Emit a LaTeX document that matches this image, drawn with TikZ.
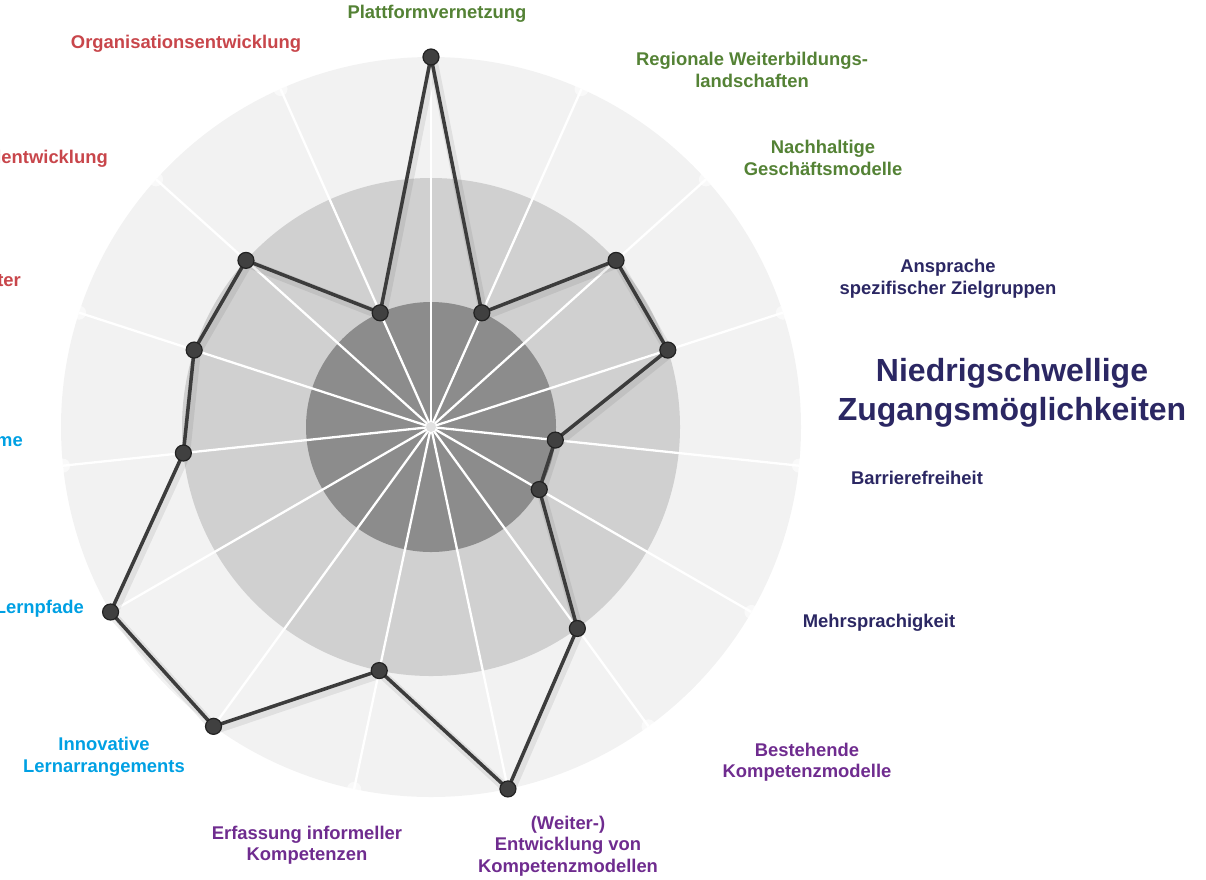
\documentclass[tikz,border=0pt]{standalone}
\usepackage{fontspec}
\setmainfont{Liberation Sans}
\usetikzlibrary{calc}
\definecolor{cred}{HTML}{C8464B}
\definecolor{cgreen}{HTML}{548235}
\definecolor{cnavy}{HTML}{2B2763}
\definecolor{cpurple}{HTML}{6F2C8F}
\definecolor{cblue}{HTML}{00A0E3}
\definecolor{ringA}{HTML}{F2F2F2}
\definecolor{ringB}{HTML}{D0D0D0}
\definecolor{ringC}{HTML}{8C8C8C}
\definecolor{dotfill}{HTML}{404040}
\definecolor{dotdraw}{HTML}{222222}
\definecolor{linecol}{HTML}{3C3C3C}
\begin{document}
\begin{tikzpicture}[x=1pt,y=-1pt,
  lab/.style={font=\bfseries\fontsize{18.4}{21.5}\selectfont, align=center, inner sep=0pt},
  titlelab/.style={font=\bfseries\fontsize{32}{39}\selectfont, align=center, inner sep=0pt, text=cnavy},
  spoke/.style={draw=white, line width=2.3},
  spokeend/.style={circle, fill=white, fill opacity=0.6, minimum size=14, inner sep=0},
  marker/.style={circle, fill=dotfill, draw=dotdraw, line width=1.2, minimum size=16, inner sep=0},
  dataline/.style={draw=linecol, line width=3.5, line join=round}]
\useasboundingbox (0,0) rectangle (1206,879);
\coordinate (c) at (431,427);
% rings
\fill[ringA] (c) circle[radius=370];
\fill[ringB] (c) circle[radius=249];
\fill[ringC] (c) circle[radius=125];
% spokes
\foreach \k in {0,...,14}{
  \pgfmathsetmacro\b{24*\k-90}
  \coordinate (s\k) at ($(c)+(\b:370)$);
  \draw[spoke] (c) -- (s\k);
  \node[spokeend] (e\k) at (s\k) {};
}
\fill[white!88!black] (c) circle[radius=5];
% data
\foreach \k/\r in {0/370,1/125,2/249,3/249,4/125,5/125,6/249,7/370,8/249,9/370,10/370,11/249,12/249,13/249,14/125}{
  \pgfmathsetmacro\b{24*\k-90}
  \coordinate (q\k) at ($(c)+(\b:\r)$);
}
\draw[black, opacity=0.07, line width=9, line join=round, transform canvas={shift={(2pt,-3pt)}}]
  (q0)--(q1)--(q2)--(q3)--(q4)--(q5)--(q6)--(q7)--(q8)--(q9)--(q10)--(q11)--(q12)--(q13)--(q14)--cycle;
\draw[dataline] (q0)--(q1)--(q2)--(q3)--(q4)--(q5)--(q6)--(q7)--(q8)--(q9)--(q10)--(q11)--(q12)--(q13)--(q14)--cycle;
\foreach \k in {0,...,14}{
  \node[marker] (p\k) at (q\k) {};
}
% labels
\node[lab, text=cgreen] (l0) at (437,14) {Plattformvernetzung};
\node[lab, text=cgreen] (l1) at (752,70) {Regionale Weiterbildungs-\\landschaften};
\node[lab, text=cgreen] (l2) at (823,158) {Nachhaltige\\Geschäftsmodelle};
\node[lab, text=cnavy] (l3) at (948,279) {Ansprache\\spezifischer Zielgruppen};
\node[titlelab] (t1) at (1012,393) {Niedrigschwellige\\Zugangsmöglichkeiten};
\node[lab, text=cnavy] (l4) at (917,478) {Barrierefreiheit};
\node[lab, text=cnavy] (l5) at (879,623) {Mehrsprachigkeit};
\node[lab, text=cpurple] (l6) at (807,762) {Bestehende\\Kompetenzmodelle};
\node[lab, text=cpurple] (l7) at (568,846) {(Weiter-)\\Entwicklung von\\Kompetenzmodellen};
\node[lab, text=cpurple] (l8) at (307,845) {Erfassung informeller\\Kompetenzen};
\node[lab, text=cblue] (l9) at (104,757) {Innovative\\Lernarrangements};
\node[lab, text=cblue, anchor=east] (l10) at (84,609) {Lernpfade};
\node[lab, text=cblue, anchor=east] (l11) at (23,442) {me};
\node[lab, text=cred, anchor=east] (l12) at (21,281) {ter};
\node[lab, text=cred, anchor=east] (l13) at (108,159) {lentwicklung};
\node[lab, text=cred] (l14) at (186,44) {Organisationsentwicklung};
\end{tikzpicture}
\end{document}
